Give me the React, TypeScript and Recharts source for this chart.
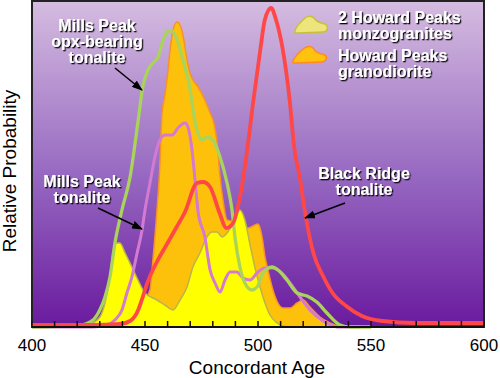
import React from "react";
import { Area, ComposedChart, CartesianGrid, Line, ReferenceArea, XAxis, YAxis } from "recharts";

// Ages (Ma) and relative probability
const orangeAges = [440, 447, 450, 452.2, 453.5, 455.3, 456.6, 457.5, 458.8, 459.7, 461.1, 462.4, 464.2, 465.5, 466.8, 468.6, 469.9, 471.2, 473.5, 476.5, 478.8, 480.1, 481.9, 483.2, 484.5, 486.3, 489.8, 495.6, 500, 501.8, 503.1, 504.4, 506.6, 508.8, 511.1, 514.2, 517.3, 519.9, 523, 527.4, 531.9, 536.3];
const orangeProb = [0, 10, 28, 37, 67, 117, 162, 212, 232, 247, 277, 297, 305, 302, 292, 267, 254, 247, 240, 227, 214, 207, 184, 150, 127, 107, 105, 99, 103, 90, 70, 57, 37, 24, 19, 19, 24, 27, 20, 10, 4, 0];

const yellowAges = [412, 421.2, 426.5, 430, 432.3, 434.5, 435.8, 437.6, 438.9, 441.2, 444.2, 446.9, 450, 455.3, 458.8, 462.4, 465.5, 468.6, 471.2, 474.3, 477.4, 479.6, 481.9, 484.1, 486.3, 489, 492, 494.2, 496.5, 498.7, 500.9, 503.1, 505.3, 508.4, 512.8];
const yellowProb = [0, 2, 4, 10, 24, 50, 74, 84, 84, 74, 60, 47, 34, 27, 22, 17, 27, 40, 60, 74, 90, 95, 95, 90, 94, 104, 117, 107, 82, 59, 40, 24, 12, 4, 0];

const greenAges = [400, 421.2, 427, 430, 432.3, 434.5, 436.7, 439.8, 443.4, 447, 449, 451.3, 453.5, 455.8, 458, 460.2, 462, 464.2, 466.8, 470, 472, 473, 475.2, 477.4, 480, 483.2, 486.3, 488.5, 489.8, 492, 494.2, 497.3, 499.6, 502.2, 506.2, 508.8, 512.8, 517.3, 521.7, 526, 530.5, 536.3, 540.7, 550];
const greenProb = [0, 2, 7, 17, 30, 50, 84, 117, 150, 207, 240, 257, 264, 270, 287, 296, 296, 287, 267, 237, 207, 197, 187, 190, 187, 170, 144, 117, 90, 60, 44, 37, 40, 54, 60, 57, 47, 34, 31, 25, 14, 2, 0, 0];

const purpleAges = [400, 427, 433.2, 436.7, 439.8, 442, 444.2, 446.5, 448.7, 450, 452.2, 454.4, 456.6, 458.8, 462, 464.6, 467.7, 469, 470.8, 472.1, 473.5, 476.5, 478.8, 481, 483.2, 485.4, 487.6, 490.7, 493.4, 496.5, 499.6, 503, 506.6, 510.6, 514.2, 518.6, 523, 528.8, 535, 545];
const purpleProb = [0, 0, 2, 7, 17, 34, 50, 74, 97, 117, 144, 170, 187, 192, 192, 199, 204, 200, 177, 148, 115, 90, 57, 44, 35, 47, 55, 55, 49, 47, 54, 59, 59, 54, 44, 30, 17, 6, 0, 0];

const redAges = [400, 427, 439, 443.4, 447, 449, 451, 455, 460, 464, 467.7, 473, 475.7, 478.8, 483, 486, 489, 492, 494, 498, 501, 503, 505.8, 508, 511, 514, 516, 518.6, 521, 524.5, 529, 533, 539, 546, 555, 570, 600];
const redProb = [2, 2, 3, 6, 17, 30, 44, 64, 84, 100, 115, 144, 145, 140, 114, 99, 104, 130, 157, 227, 277, 307, 319, 307, 277, 227, 180, 148, 112, 74, 50, 34, 21, 11, 6, 4, 4];

const xTicks = [400, 410, 420, 430, 440, 450, 460, 470, 480, 490, 500, 510, 520, 530, 540, 550, 560, 570, 580, 590, 600];

const toRows = (ages: number[], probs: number[]) => ages.map((age, i) => ({ age, p: probs[i] }));

const FONT = '"Liberation Sans", Arial, Helvetica, sans-serif';

function AgeTick(props: any) {
  const { x, y, payload } = props;
  const v = payload.value;
  return (
    <g>
      <line x1={x} x2={x} y1={y - 1} y2={y - 6} stroke="#111" strokeWidth={1.5} />
      {v % 50 === 0 && (
        <text x={x} y={y + 24} textAnchor="middle" fontSize={17} fontFamily={FONT} fill="#000">
          {v}
        </text>
      )}
    </g>
  );
}

function Label3D(props: { x: number; y: number; lines: string[]; anchor?: "start" | "middle" }) {
  const { x, y, lines, anchor = "middle" } = props;
  return (
    <text
      x={x}
      y={y}
      textAnchor={anchor}
      fontSize={16}
      fontWeight="bold"
      fontFamily={FONT}
      fill="#fff"
      filter="url(#shadow)"
    >
      {lines.map((l, i) => (
        <tspan key={i} x={x} dy={i === 0 ? 0 : 16.2}>
          {l}
        </tspan>
      ))}
    </text>
  );
}

export default function App() {
  const orange = toRows(orangeAges, orangeProb);
  const yellow = toRows(yellowAges, yellowProb);
  const green = toRows(greenAges, greenProb);
  const purple = toRows(purpleAges, purpleProb);
  const red = toRows(redAges, redProb);

  return (
    <div style={{ position: "absolute", left: 0, top: 0, width: 500, height: 378, fontFamily: FONT }}>
      <ComposedChart width={500} height={378} margin={{ top: 1, right: 16, bottom: 21, left: 32 }}>
        <defs>
          <linearGradient id="bg" x1="0" y1="0" x2="0" y2="1">
            <stop offset="0%" stopColor="#d5bce0" />
            <stop offset="55%" stopColor="#9566c0" />
            <stop offset="100%" stopColor="#6a1a9e" />
          </linearGradient>
        </defs>
        <CartesianGrid horizontal={false} vertical={false} fill="url(#bg)" fillOpacity={1} />
        <XAxis
          type="number"
          dataKey="age"
          domain={[400, 600]}
          ticks={xTicks}
          interval={0}
          tickSize={0}
          tickMargin={0}
          height={30}
          tick={<AgeTick />}
          axisLine={{ stroke: "#111", strokeWidth: 2 }}
          allowDataOverflow
        />
        <YAxis hide type="number" domain={[0, 326]} width={0} />
        <Area
          data={orange}
          dataKey="p"
          type="monotone"
          fill="#fdc10c"
          fillOpacity={1}
          stroke="#f7922a"
          strokeWidth={1.5}
          isAnimationActive={false}
        />
        <Area
          data={yellow}
          dataKey="p"
          type="monotone"
          fill="#ffff00"
          fillOpacity={1}
          stroke="#b9b44c"
          strokeWidth={1.5}
          isAnimationActive={false}
        />
        <Line data={purple} dataKey="p" type="monotone" stroke="#d47ad2" strokeWidth={3} dot={false} isAnimationActive={false} />
        <Line data={green} dataKey="p" type="monotone" stroke="#a9d35b" strokeWidth={3.3} dot={false} isAnimationActive={false} />
        <Line data={red} dataKey="p" type="monotone" stroke="#ff4747" strokeWidth={3.8} dot={false} isAnimationActive={false} />
        <ReferenceArea x1={400} x2={600} y1={0} y2={326} fill="none" stroke="#222" strokeWidth={2} />
      </ComposedChart>

      <svg width={500} height={378} style={{ position: "absolute", left: 0, top: 0, pointerEvents: "none" }}>
        <defs>
          <filter id="shadow" x="-10%" y="-20%" width="130%" height="160%">
            <feDropShadow dx="1.3" dy="1.3" stdDeviation="0.7" floodColor="#000" floodOpacity="0.95" />
          </filter>
          <marker id="arrow" markerUnits="userSpaceOnUse" markerWidth={11} markerHeight={8} refX={10} refY={4} orient="auto">
            <path d="M0,0 L11,4 L0,8 z" fill="#000" />
          </marker>
        </defs>

        <text transform="translate(16,171) rotate(-90)" textAnchor="middle" fontSize={19} fontFamily={FONT} fill="#000">
          Relative Probability
        </text>
        <text x={257} y={374} textAnchor="middle" fontSize={19} fontFamily={FONT} fill="#000">
          Concordant Age
        </text>

        <Label3D x={97} y={31} lines={["Mills Peak", "opx-bearing", "tonalite"]} />
        <Label3D x={82} y={187} lines={["Mills Peak", "tonalite"]} />
        <Label3D x={364} y={179} lines={["Black Ridge", "tonalite"]} />

        <line x1={115} y1={68} x2={142} y2={90} stroke="#000" strokeWidth={1.5} markerEnd="url(#arrow)" />
        <line x1={98} y1={208} x2={142} y2={229} stroke="#000" strokeWidth={1.5} markerEnd="url(#arrow)" />
        <line x1={345} y1={203} x2={305} y2={218} stroke="#000" strokeWidth={1.5} markerEnd="url(#arrow)" />

        <path
          d="M295,31 C296,26 300,23 303,20 C306,16 311,15 314,18 C316,21 320,23 325,24 C329,26 328,32 323,32 L299,33 C296,33 294,33 295,31 Z"
          fill="#ede57b"
          stroke="#c6c03a"
          strokeWidth={1.5}
        />
        <path
          d="M293,61 C295,56 299,53 302,50 C305,47 310,45 313,48 C315,52 320,54 325,55 C328,57 326,62 321,62 L297,63 C294,63 292,63 293,61 Z"
          fill="#ffc20e"
          stroke="#ff8a22"
          strokeWidth={1.5}
        />
        <Label3D x={338} y={23} anchor="start" lines={["2 Howard Peaks", "monzogranites"]} />
        <Label3D x={338} y={61} anchor="start" lines={["Howard Peaks", "granodiorite"]} />
      </svg>
    </div>
  );
}
